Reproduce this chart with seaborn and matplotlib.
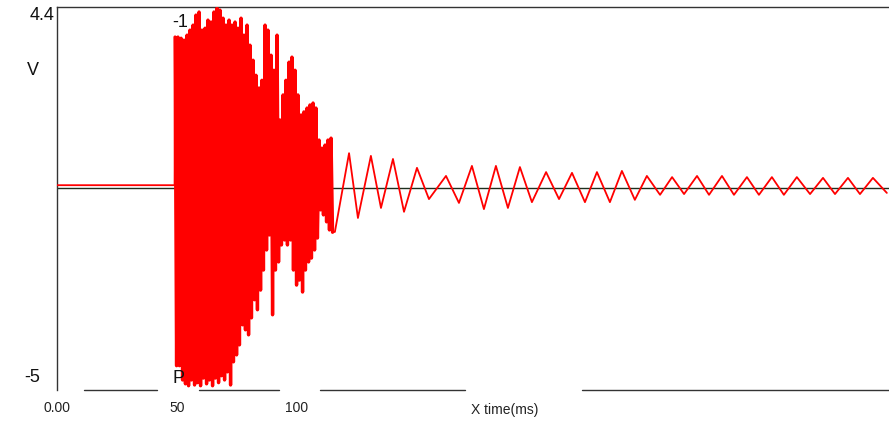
import numpy as np
import pandas as pd
import matplotlib
matplotlib.use("Agg")
import matplotlib.pyplot as plt
import seaborn as sns

sns.set_theme(style="white")
plt.rcParams['font.family'] = ['Liberation Sans', 'DejaVu Sans']

# ---------------- data (time in ms, amplitude in V) ----------------
pre_t = [0.0, 49.0]
pre_v = [0.06, 0.06]

burst_t = [49.2, 50.4, 51.7, 52.9, 54.2, 55.4, 56.7, 57.9, 59.2, 60.4,
           61.7, 62.9, 64.2, 65.4, 66.7, 67.9, 69.2, 70.4, 71.7, 72.9,
           74.2, 75.4, 76.7, 77.9, 79.2, 80.4, 81.7, 82.9, 84.2, 85.4,
           86.7, 87.9, 89.2, 90.4, 91.7, 92.9, 94.2, 95.4, 96.7, 97.9,
           99.2, 100.4, 101.7, 102.9, 104.2, 105.4, 106.7, 107.9, 109.2, 110.4,
           111.7, 112.9, 114.2]
burst_hi = [3.90, 3.90, 3.87, 3.82, 3.95, 4.08, 4.21, 4.47, 4.55, 4.08,
            4.13, 4.34, 4.29, 4.55, 4.65, 4.60, 4.39, 4.21, 4.34, 4.21,
            4.29, 4.13, 4.39, 3.95, 4.21, 3.69, 3.30, 2.91, 2.58, 2.78,
            4.21, 4.08, 3.43, 3.04, 3.95, 1.75, 2.40, 2.78, 3.25, 3.38,
            3.04, 2.40, 1.88, 1.96, 2.06, 2.14, 2.19, 2.06, 1.23, 1.02,
            1.10, 1.23, 1.28]
burst_lo = [-4.62, -4.62, -4.99, -5.09, -5.14, -4.99, -5.12, -5.06, -5.14, -4.94,
            -5.09, -4.99, -5.14, -4.94, -5.06, -4.88, -4.99, -4.78, -5.12, -4.52,
            -4.34, -4.08, -3.56, -3.69, -3.82, -3.38, -2.91, -3.17, -2.66, -2.14,
            -1.62, -1.23, -3.30, -2.14, -1.93, -1.49, -1.36, -1.49, -1.36, -2.14,
            -2.53, -2.40, -2.71, -2.14, -1.93, -1.83, -1.62, -1.31, -0.58, -0.71,
            -0.89, -1.10, -1.16]

ring_t = [115.8, 121.7, 125.4, 130.8, 135.0, 140.0, 144.6, 150.0, 155.0, 162.1,
          167.5, 172.9, 177.9, 182.9, 187.9, 192.9, 197.9, 203.8, 209.2, 214.6,
          220.0, 225.0, 230.4, 235.4, 240.8, 245.8, 251.3, 256.3, 261.3, 266.7,
          271.7, 277.1, 282.1, 287.5, 292.5, 297.9, 302.9, 308.3, 313.8, 319.2,
          324.2, 329.6, 334.6, 340.0, 345.8]
ring_v = [-1.15, 0.89, -0.79, 0.82, -0.53, 0.74, -0.63, 0.51, -0.30, 0.30,
          -0.40, 0.56, -0.56, 0.56, -0.53, 0.53, -0.38, 0.40, -0.30, 0.38,
          -0.38, 0.40, -0.38, 0.43, -0.32, 0.30, -0.19, 0.27, -0.17, 0.30,
          -0.19, 0.30, -0.19, 0.27, -0.19, 0.27, -0.19, 0.27, -0.17, 0.25,
          -0.17, 0.25, -0.17, 0.25, -0.14]

ref_t = [0.0, 346.7]
ref_v = [0.0, 0.0]

x_ticks = [0, 50, 100]
x_tick_labels = ["0.00", "50", "100"]
y_top_label = "4.4"
y_bottom_label = "-5"
y_unit = "V"
x_title = "X time(ms)"
marker_top = "-1"
marker_bottom = "P"

# ---------------- build traces ----------------
bt, bv = [], []
for t, hi, lo in zip(burst_t, burst_hi, burst_lo):
    bt += [t, t + 0.625]
    bv += [hi, lo]
sig = pd.DataFrame({"t": pre_t + bt + ring_t, "v": pre_v + bv + ring_v})
burst = pd.DataFrame({"t": bt, "v": bv})
ref = pd.DataFrame({"t": ref_t, "v": ref_v})

W, H = 889, 424
fig = plt.figure(figsize=(W / 100, H / 100), dpi=100)
fig.patch.set_facecolor("white")
ax = fig.add_axes([57 / W, 1 - 390 / H, 832 / W, 383 / H])
ax.set_facecolor("white")

sns.lineplot(data=ref, x="t", y="v", color="#1e2e1e", lw=1.0,
             estimator=None, sort=False, ax=ax, zorder=2)
sns.lineplot(data=sig, x="t", y="v", color="#ff0000", lw=1.3,
             estimator=None, sort=False, ax=ax, zorder=3)
sns.lineplot(data=burst, x="t", y="v", color="#ff0000", lw=2.4,
             estimator=None, sort=False, ax=ax, zorder=3)

ax.set_xlim(0, 346.7)
ax.set_ylim(-5.25, 4.68)
ax.set_xlabel("")
ax.set_ylabel("")

for s in ["right", "bottom"]:
    ax.spines[s].set_visible(False)
for s in ["left", "top"]:
    ax.spines[s].set_color("#333333")
    ax.spines[s].set_linewidth(1.0)

# broken bottom axis line
for a, b in [(0.0325, 0.120), (0.171, 0.267), (0.316, 0.490), (0.631, 1.0)]:
    ax.axhline(-5.25, xmin=a, xmax=b, color="#333333", lw=1.0, clip_on=False)

ax.set_xticks(x_ticks, x_tick_labels)
ax.tick_params(axis="x", length=0, pad=8, labelsize=10, colors="#222222")
ax.set_yticks([])

ytr = ax.get_yaxis_transform()
ax.text(-0.003, 4.45, y_top_label, transform=ytr, ha="right", va="center",
        fontsize=13, color="#111111")
ax.text(-0.020, -4.92, y_bottom_label, transform=ytr, ha="right", va="center",
        fontsize=13, color="#111111")
ax.text(-0.029, 3.04, y_unit, transform=ytr, ha="center", va="center",
        fontsize=13, color="#111111")

xtr = ax.get_xaxis_transform()
ax.text(186.7, -0.052, x_title, transform=xtr, ha="center", va="center",
        fontsize=10, color="#222222")

ax.text(47.9, 4.29, marker_top, ha="left", va="center", fontsize=13,
        color="#111111", zorder=5)
ax.text(48.3, -4.94, marker_bottom, ha="left", va="center", fontsize=13,
        color="#111111", zorder=5)

fig.savefig("out.png", dpi=100, facecolor="white")
